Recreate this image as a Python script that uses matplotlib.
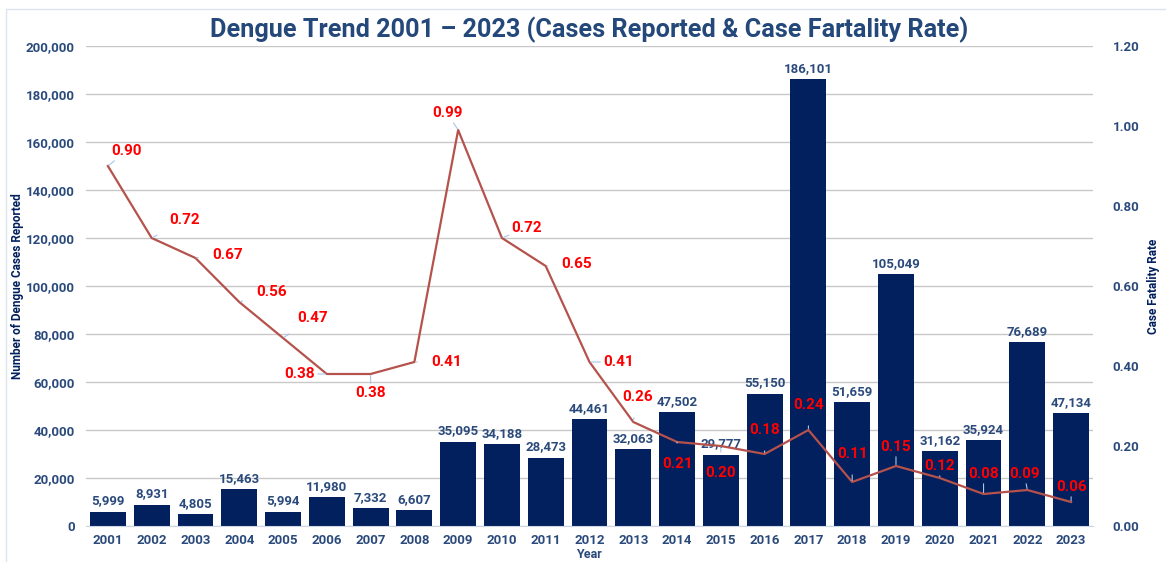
import matplotlib.pyplot as plt
from matplotlib.patches import Rectangle
from matplotlib.ticker import FuncFormatter
import numpy as np

plt.rcParams['font.family'] = ['Roboto', 'DejaVu Sans']

years = [str(y) for y in range(2001, 2024)]
cases = [5999, 8931, 4805, 15463, 5994, 11980, 7332, 6607, 35095, 34188, 28473,
         44461, 32063, 47502, 29777, 55150, 186101, 51659, 105049, 31162, 35924,
         76689, 47134]
cfr = [0.90, 0.72, 0.67, 0.56, 0.47, 0.38, 0.38, 0.41, 0.99, 0.72, 0.65,
       0.41, 0.26, 0.21, 0.20, 0.18, 0.24, 0.11, 0.15, 0.12, 0.08, 0.09, 0.06]

# label offsets (pixels, dx, dy up) for the fatality-rate labels
lbl_off = [(19, 15), (33, 18), (32, 3), (32, 10), (30, 20), (-27, 0), (0, -19),
           (32, 0), (-11, 17), (25, 10), (31, 2), (29, 0), (4, 25), (0, -22),
           (0, -27), (0, 24), (0, 25), (0, 28), (0, 19), (0, 12), (0, 20),
           (-3, 16), (0, 15)]

navy = '#021f5e'
txt = '#2b4a7c'
W, H = 1166, 562

fig = plt.figure(figsize=(W / 100, H / 100), dpi=100)
ax = fig.add_axes([86 / W, 36 / H, (1093 - 86) / W, (526 - 46) / H])
ax2 = ax.twinx()

x = np.arange(len(years))
bars = ax.bar(x, cases, width=0.82, color=navy, zorder=2)
ax.bar_label(bars, labels=[f'{c:,}' for c in cases], padding=3,
             fontsize=9.5, fontweight='bold', color=txt)

ax.set_xlim(-0.5, len(years) - 0.5)
ax.set_ylim(0, 200000)
ax.set_yticks(np.arange(0, 200001, 20000))
ax.yaxis.set_major_formatter(FuncFormatter(lambda v, p: f'{int(v):,}'))
ax.set_xticks(x)
ax.set_xticklabels(years)
ax.grid(axis='y', color='#c8c8c8', linewidth=1, zorder=0)
ax.set_axisbelow(True)
for s in ['top', 'left', 'right']:
    ax.spines[s].set_visible(False)
    ax2.spines[s].set_visible(False)
ax.spines['bottom'].set_color('#cdd6e4')
ax2.spines['bottom'].set_visible(False)
ax.tick_params(axis='y', length=0, labelsize=9.5, labelcolor=txt, pad=8)
ax.tick_params(axis='x', length=0, labelsize=9.5, labelcolor=txt, pad=6)
for t in ax.get_xticklabels() + ax.get_yticklabels():
    t.set_fontweight('bold')

ax2.plot(x, cfr, color='#b5524c', linewidth=1.6, zorder=3)
ax2.set_ylim(0, 1.2)
ax2.set_yticks(np.arange(0, 1.21, 0.2))
ax2.yaxis.set_major_formatter(FuncFormatter(lambda v, p: f'{v:.2f}'))
ax2.tick_params(length=0, labelsize=9.5, labelcolor=txt, pad=14)
for t in ax2.get_yticklabels():
    t.set_fontweight('bold')

for i, v in enumerate(cfr):
    dx, dy = lbl_off[i]
    ax2.annotate(f'{v:.2f}', (x[i], v), xytext=(dx, dy), textcoords='offset pixels',
                 ha='center', va='center', fontsize=11, fontweight='bold',
                 color='#ff0000', zorder=5,
                 arrowprops=dict(arrowstyle='-', color='#a9c4e8', lw=0.8,
                                 shrinkA=8, shrinkB=1))

# axis titles
fig.text(18 / W, 1 - 286 / H, 'Number of Dengue Cases Reported', rotation=90,
         ha='center', va='center', fontsize=8.5, fontweight='bold', color=navy)
fig.text(1154 / W, 1 - 286 / H, 'Case Fatality Rate', rotation=90,
         ha='center', va='center', fontsize=8.5, fontweight='bold', color=navy)
fig.text(589 / W, 1 - 555 / H, 'Year', ha='center', va='center',
         fontsize=9, fontweight='bold', color=txt)

fig.text(589 / W, 1 - 30 / H, 'Dengue Trend 2001 \u2013 2023 (Cases Reported & Case Fartality Rate)',
         ha='center', va='center', fontsize=18.2, fontweight='bold', color='#24487a')

fig.patches.append(Rectangle((6 / W, -0.1), 1.2, (H - 9) / H + 0.1,
                             transform=fig.transFigure, fill=False,
                             edgecolor='#dbe3ee', linewidth=1))

fig.savefig('out.png', dpi=100)
